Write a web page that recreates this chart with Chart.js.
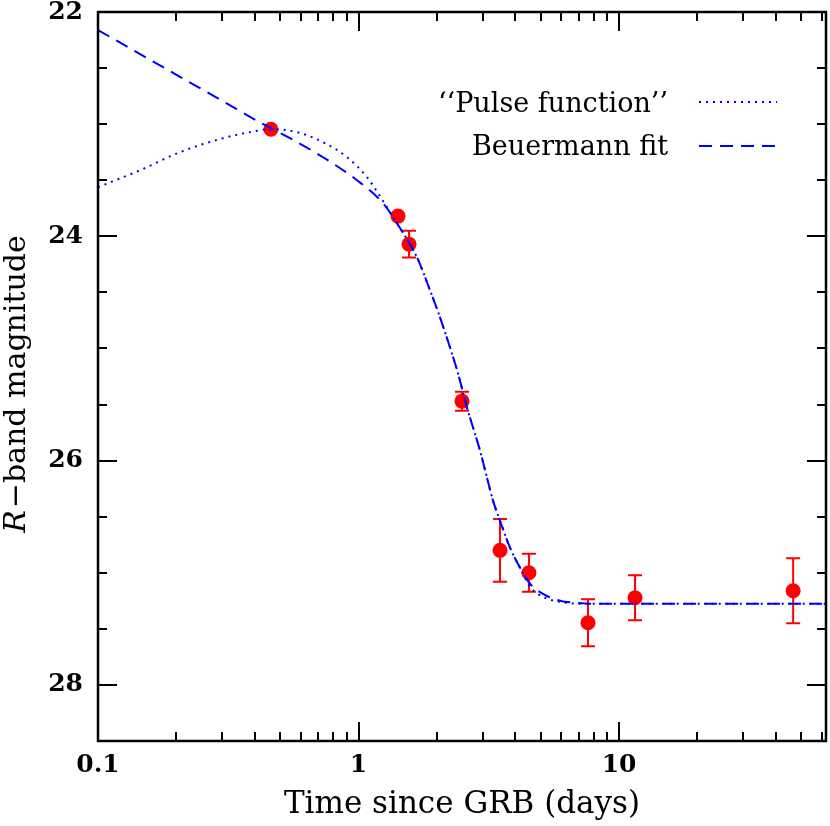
<!DOCTYPE html>
<html><head><meta charset="utf-8">
<script src="https://cdn.jsdelivr.net/npm/chart.js@4"></script>
<style>html,body{margin:0;padding:0;background:#fff}canvas{display:block}</style>
</head><body>
<canvas id="c" width="830" height="826"></canvas>
<script>
// Observed R-band points
const obsTime = [0.461, 1.418, 1.563, 2.496, 3.493, 4.51, 7.60, 11.52, 46.6];
const obsMag  = [23.045, 23.82, 24.07, 25.47, 26.80, 27.00, 27.446, 27.223, 27.16];
const obsErr  = [0, 0, 0.12, 0.085, 0.28, 0.17, 0.21, 0.2, 0.29];

// "Pulse function" curve
const pulseTime = [0.1, 0.145, 0.2064, 0.3018, 0.3833, 0.461, 0.5806, 0.7306, 0.9035, 1.078, 1.286, 1.405, 1.677, 1.882, 2.055, 2.245, 2.41, 2.609, 2.927, 3.113, 3.283, 3.493, 3.816, 4.169, 4.554, 5.199, 5.935, 7.085, 62.3];
const pulseMag  = [23.5625, 23.411, 23.25, 23.125, 23.071, 23.045, 23.071, 23.161, 23.295, 23.473, 23.741, 23.884, 24.188, 24.482, 24.723, 24.991, 25.223, 25.527, 25.911, 26.152, 26.357, 26.536, 26.777, 26.955, 27.125, 27.223, 27.259, 27.277, 27.277];

// Beuermann fit curve
const beuTime = [0.1, 0.145, 0.2064, 0.3018, 0.4077, 0.5458, 0.7306, 0.9867, 1.2417, 1.405, 1.677, 1.882, 2.055, 2.245, 2.41, 2.609, 2.927, 3.113, 3.283, 3.493, 3.816, 4.169, 4.554, 5.109, 5.935, 6.901, 7.947, 14.37, 62.3];
const beuMag  = [22.161, 22.375, 22.578, 22.795, 22.97, 23.125, 23.295, 23.5, 23.705, 23.884, 24.188, 24.482, 24.723, 24.991, 25.223, 25.527, 25.911, 26.152, 26.357, 26.536, 26.777, 26.955, 27.098, 27.188, 27.25, 27.268, 27.277, 27.277, 27.277];

const xTickValues = [0.1, 1, 10];
const xTickLabels = ['0.1', '1', '10'];
const xMinorValues = [0.2,0.3,0.4,0.5,0.6,0.7,0.8,0.9,2,3,4,5,6,7,8,9,20,30,40,50,60];
const yTickValues = [22, 24, 26, 28];
const yTickLabels = ['22', '24', '26', '28'];
const yMinorValues = [22.5,23,23.5,24.5,25,25.5,26.5,27,27.5,28.5];
const legendLabels = ['\u2018\u2018Pulse function\u2019\u2019', 'Beuermann fit'];
const xTitle = 'Time since GRB (days)';
const yTitleItalic = 'R';
const yTitleRest = '\u2212band magnitude';

const FONT = 'DejaVu Serif';

const frameTicks = {
  id: 'frameTicks',
  afterDraw(chart) {
    const {ctx, chartArea: a, scales: {x, y}} = chart;
    ctx.save();
    ctx.strokeStyle = '#000';
    ctx.lineCap = 'butt';
    ctx.lineWidth = 2;
    const seg = (x1, y1, x2, y2) => { ctx.beginPath(); ctx.moveTo(x1, y1); ctx.lineTo(x2, y2); ctx.stroke(); };
    const xt = (v, len) => { const p = Math.round(x.getPixelForValue(v)); seg(p, a.bottom, p, a.bottom - len); seg(p, a.top, p, a.top + len); };
    const yt = (v, len) => { const p = Math.round(y.getPixelForValue(v)); seg(a.left, p, a.left + len, p); seg(a.right, p, a.right - len, p); };
    xTickValues.forEach(v => xt(v, 19));
    xMinorValues.forEach(v => xt(v, 9));
    yTickValues.forEach(v => yt(v, 19));
    yMinorValues.forEach(v => yt(v, 9));
    ctx.lineWidth = 2.5;
    ctx.strokeRect(a.left, a.top, a.right - a.left, a.bottom - a.top);
    ctx.restore();
  }
};

const errorBars = {
  id: 'errorBars',
  beforeDatasetDraw(chart, args) {
    if (args.index !== 2) return;
    const {ctx, scales: {x, y}} = chart;
    ctx.save();
    ctx.strokeStyle = '#ff0000';
    ctx.lineWidth = 2;
    obsTime.forEach((t, i) => {
      const e = obsErr[i];
      if (!e) return;
      const px = x.getPixelForValue(t);
      const y1 = y.getPixelForValue(obsMag[i] - e);
      const y2 = y.getPixelForValue(obsMag[i] + e);
      ctx.beginPath();
      ctx.moveTo(px, y1); ctx.lineTo(px, y2);
      ctx.moveTo(px - 7, y1); ctx.lineTo(px + 7, y1);
      ctx.moveTo(px - 7, y2); ctx.lineTo(px + 7, y2);
      ctx.stroke();
    });
    ctx.restore();
  }
};

const customLegend = {
  id: 'customLegend',
  afterDraw(chart) {
    const ctx = chart.ctx;
    const rows = [{base: 112, line: 102}, {base: 155, line: 146}];
    ctx.save();
    ctx.font = '27px "' + FONT + '"';
    ctx.fillStyle = '#000';
    ctx.textAlign = 'right';
    ctx.textBaseline = 'alphabetic';
    [0, 1].forEach(i => {
      const ds = chart.data.datasets[i];
      ctx.fillText(ds.label, 668, rows[i].base);
      ctx.strokeStyle = ds.borderColor;
      ctx.lineWidth = ds.borderWidth;
      ctx.setLineDash(ds.borderDash);
      ctx.beginPath();
      ctx.moveTo(699, rows[i].line); ctx.lineTo(777, rows[i].line);
      ctx.stroke();
    });
    ctx.restore();
  }
};

const yTitlePlugin = {
  id: 'yTitle',
  afterDraw(chart) {
    const ctx = chart.ctx;
    ctx.save();
    ctx.fillStyle = '#000';
    ctx.textBaseline = 'alphabetic';
    ctx.textAlign = 'left';
    const fi = 'italic 30px "' + FONT + '"';
    const fn = '30px "' + FONT + '"';
    ctx.font = fi; const w1 = ctx.measureText(yTitleItalic).width;
    ctx.font = fn; const w2 = ctx.measureText(yTitleRest).width;
    const cy = 384;
    ctx.translate(25, cy);
    ctx.rotate(-Math.PI / 2);
    const start = -(w1 + w2 + 2) / 2;
    ctx.font = fi; ctx.fillText(yTitleItalic, start, 0);
    ctx.font = fn; ctx.fillText(yTitleRest, start + w1 + 2, 0);
    ctx.restore();
  }
};

new Chart(document.getElementById('c').getContext('2d'), {
  type: 'scatter',
  data: {
    datasets: [
      {label: legendLabels[0], data: pulseTime.map((t, i) => ({x: t, y: pulseMag[i]})), showLine: true,
       borderColor: '#0000ff', borderWidth: 2, borderDash: [2, 5], pointRadius: 0, fill: false, cubicInterpolationMode: 'monotone'},
      {label: legendLabels[1], data: beuTime.map((t, i) => ({x: t, y: beuMag[i]})), showLine: true,
       borderColor: '#0000ff', borderWidth: 2, borderDash: [13, 8], pointRadius: 0, fill: false, cubicInterpolationMode: 'monotone'},
      {label: 'R-band data', data: obsTime.map((t, i) => ({x: t, y: obsMag[i]})), showLine: false,
       pointRadius: 7.5, pointBackgroundColor: '#ff0000', pointBorderColor: '#ff0000', pointBorderWidth: 0}
    ]
  },
  options: {
    responsive: false, animation: false, devicePixelRatio: 1,
    layout: {autoPadding: false, padding: {top: 12, right: 4, left: 0, bottom: 0}},
    plugins: {legend: {display: false}, tooltip: {enabled: false}},
    scales: {
      x: {
        type: 'logarithmic', min: 0.1, max: 62.3,
        grid: {display: false, drawTicks: false}, border: {display: false},
        afterBuildTicks: s => { s.ticks = xTickValues.map(v => ({value: v})); },
        afterFit: s => { s.height = 85; s.paddingLeft = 0; s.paddingRight = 0; },
        ticks: {autoSkip: false, maxRotation: 0, minRotation: 0, padding: 9, color: '#000',
                font: {family: FONT, size: 25, weight: 'bold'}, callback: (v, i) => xTickLabels[i]},
        title: {display: true, text: xTitle, color: '#000', font: {family: FONT, size: 31}, padding: {top: 0, bottom: 2}}
      },
      y: {
        type: 'linear', reverse: true, min: 22, max: 28.5,
        grid: {display: false, drawTicks: false}, border: {display: false},
        afterBuildTicks: s => { s.ticks = yTickValues.map(v => ({value: v})); },
        afterFit: s => { s.width = 98; s.paddingTop = 0; s.paddingBottom = 0; },
        ticks: {autoSkip: false, padding: 15, color: '#000', font: {family: FONT, size: 25, weight: 'bold'},
                callback: (v, i) => yTickLabels[i]}
      }
    }
  },
  plugins: [errorBars, frameTicks, customLegend, yTitlePlugin]
});
</script>
</body></html>
